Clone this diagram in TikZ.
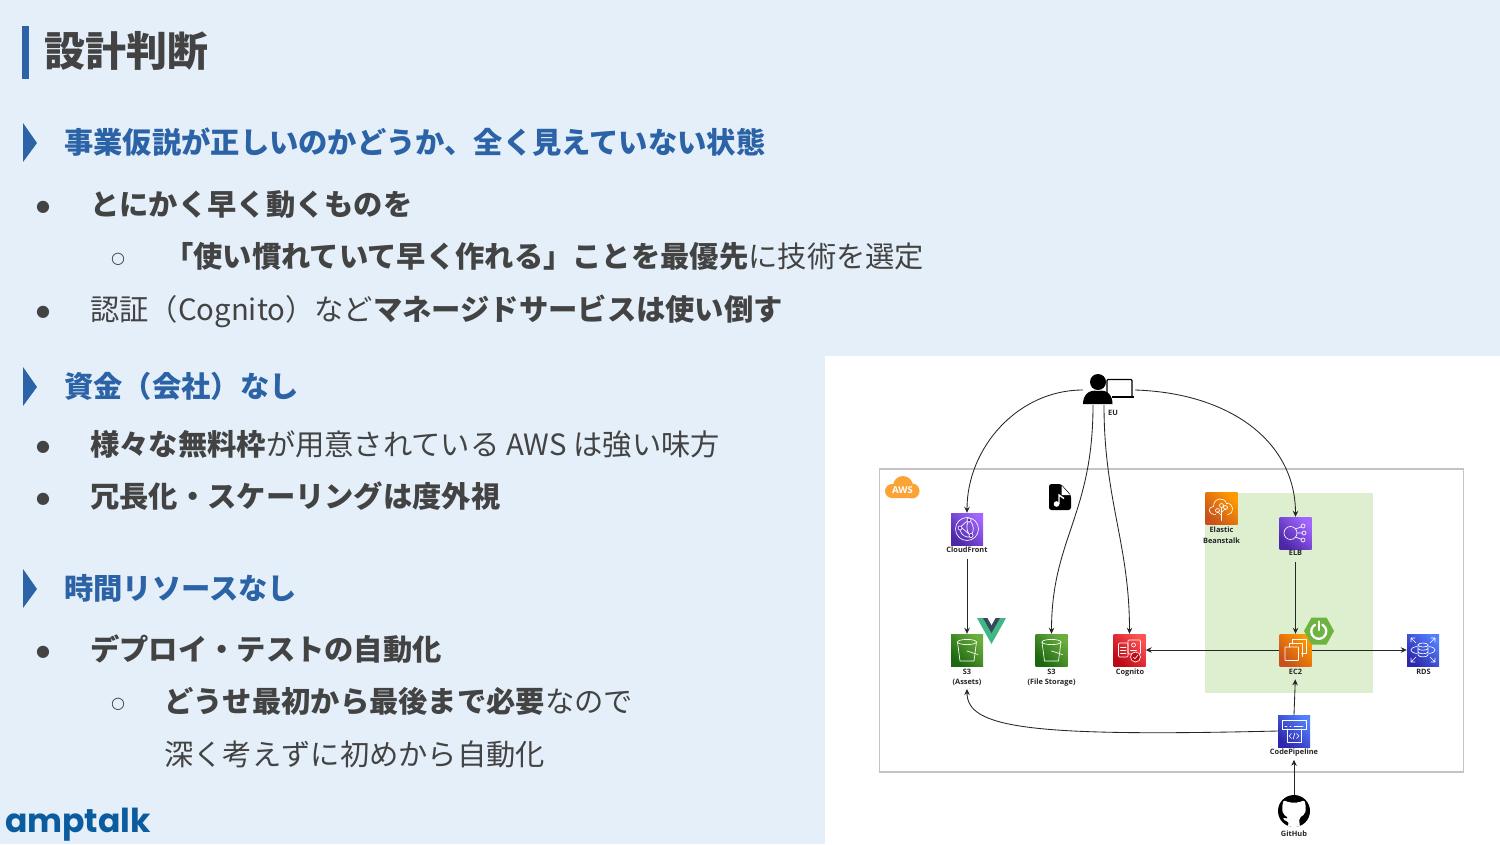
\documentclass[tikz,border=0pt]{standalone}
\usepackage{fontspec}
\usetikzlibrary{arrows.meta,positioning,calc}
\setmainfont{Noto Sans CJK JP}
\newfontfamily\djv{DejaVu Sans}
\newfontfamily\opens{Open Sans}
\newfontfamily\logof{Poppins}
\definecolor{pagebg}{HTML}{E4EFF9}
\definecolor{ink}{HTML}{434343}
\definecolor{hblue}{HTML}{2B63A6}
\definecolor{boxgray}{HTML}{C4C4C4}
\definecolor{ebgreen}{HTML}{DEEFCF}
\definecolor{pA}{HTML}{4D27A8}\definecolor{pB}{HTML}{A166FF}
\definecolor{gA}{HTML}{1B660F}\definecolor{gB}{HTML}{6CAE3E}
\definecolor{oA}{HTML}{C8511B}\definecolor{oB}{HTML}{FF9900}
\definecolor{rA}{HTML}{BD0816}\definecolor{rB}{HTML}{FF5252}
\definecolor{bA}{HTML}{2E27AD}\definecolor{bB}{HTML}{527FFF}
\definecolor{awsor}{HTML}{F9A435}
\definecolor{logoblue}{HTML}{0B5C9E}
\definecolor{spbg}{HTML}{6DB33F}
\definecolor{vueg}{HTML}{41B883}
\definecolor{vued}{HTML}{35495E}
\tikzset{
 titletext/.style={anchor=base west,inner sep=0,text=ink,font=\fontsize{41}{48}\selectfont\bfseries},
 headtext/.style={anchor=base west,inner sep=0,text=hblue,font=\fontsize{29.3}{35}\selectfont\bfseries},
 bodytext/.style={anchor=base west,inner sep=0,text=ink,font=\fontsize{29.3}{35}\selectfont},
 bul/.style={anchor=base,inner sep=0,text=ink,font=\djv\fontsize{16}{18}\selectfont},
 hmark/.style={fill=hblue,draw=none},
 icon/.style n args={2}{rectangle,minimum size=32pt,inner sep=0,bottom color=#1,top color=#2,shading angle=-45},
 lbl/.style={anchor=north,inner sep=0,align=center,text=black!85,font=\opens\fontsize{7.4}{10.6}\selectfont\bfseries},
 glyph/.style={draw=white,line width=0.65pt,line join=round,line cap=round},
 conn/.style={draw=black!85,line width=0.85pt,-{Stealth[length=6pt,width=5.5pt]}}
}
\begin{document}
\begin{tikzpicture}[x=1pt,y=-1pt]
\useasboundingbox (0,0) rectangle (1500,844);
\fill[pagebg] (0,0) rectangle (1500,844);
% title
\fill[hblue] (21.5,26) rectangle (29,79);
\node[titletext] (title) at (44,66) {設計判断};
% section marks
\fill[hmark] (23,123) -- (37,143) -- (23,162) -- cycle;
\fill[hmark] (23,367) -- (37,387) -- (23,406) -- cycle;
\fill[hmark] (23,569) -- (37,589) -- (23,608) -- cycle;
% text
\node[headtext] (h1) at (64,153) {事業仮説が正しいのかどうか、全く見えていない状態};
\node[bul] (b1) at (43,211) {●};
\node[bodytext] (t1) at (90,215) {\bfseries とにかく早く動くものを};
\node[bul] (b2) at (118,263) {○};
\node[bodytext] (t2) at (164,267) {\bfseries 「使い慣れていて早く作れる」ことを最優先\mdseries に技術を選定};
\node[bul] (b3) at (43,316) {●};
\node[bodytext] (t3) at (90,320) {認証（Cognito）など\bfseries マネージドサービスは使い倒す};
\node[headtext] (h2) at (64,397) {資金（会社）なし};
\node[bul] (b4) at (43,451) {●};
\node[bodytext] (t4) at (90,455) {\bfseries 様々な無料枠\mdseries が用意されている AWS は強い味方};
\node[bul] (b5) at (43,503) {●};
\node[bodytext] (t5) at (90,507) {\bfseries 冗長化・スケーリングは度外視};
\node[headtext] (h3) at (64,599) {時間リソースなし};
\node[bul] (b6) at (43,656) {●};
\node[bodytext] (t6) at (90,660) {\bfseries デプロイ・テストの自動化};
\node[bul] (b7) at (118,708) {○};
\node[bodytext] (t7) at (164,712) {\bfseries どうせ最初から最後まで必要\mdseries なので};
\node[bodytext] (t8) at (164,765) {深く考えずに初めから自動化};
% logo
\node[anchor=base west,inner sep=0,text=logoblue,font=\logof\fontsize{33}{36}\selectfont\bfseries] (logo) at (5,832) {amptalk};
% diagram panel
\fill[white] (825,356) rectangle (1500,844);
\draw[boxgray,line width=1.1pt] (879.5,469) rectangle (1463.5,772);
\fill[ebgreen] (1205,493) rectangle (1373,693);
% AWS cloud
\fill[awsor] (903,486) circle[radius=10pt] (892,491) circle[radius=7pt] (912,491) circle[radius=7.5pt] (892,488) rectangle (912,498);
\node[inner sep=0,text=white,font=\opens\fontsize{9.5}{10}\selectfont\bfseries] (awstxt) at (902.5,490) {AWS};
% icons
\node[icon={pA}{pB}] (cf) at (967,529) {};
\node[icon={oA}{oB}] (eb) at (1221.5,508.5) {};
\node[icon={pA}{pB}] (elb) at (1295.5,533) {};
\node[icon={oA}{oB}] (ec2) at (1295.5,650) {};
\node[icon={gA}{gB}] (s3a) at (967,650) {};
\node[icon={gA}{gB}] (s3f) at (1051.5,650) {};
\node[icon={rA}{rB}] (cog) at (1129.5,650) {};
\node[icon={bA}{bB}] (rds) at (1423,650) {};
\node[icon={bA}{bB}] (cp) at (1294,731) {};
% labels
\node[lbl] (cfl) at (967,546.5) {CloudFront};
\node[lbl] (ebl) at (1221.5,527) {Elastic\\Beanstalk};
\node[lbl] (elbl) at (1295.5,550.5) {ELB};
\node[lbl] (ec2l) at (1295.5,668.5) {EC2};
\node[lbl] (s3al) at (967,668.5) {S3\\(Assets)};
\node[lbl] (s3fl) at (1051.5,668.5) {S3\\(File Storage)};
\node[lbl] (cogl) at (1130,668.5) {Cognito};
\node[lbl] (rdsl) at (1423.5,668.5) {RDS};
\node[lbl] (cpl) at (1294,749) {CodePipeline};
\node[lbl] (ghl) at (1294,831) {GitHub};
\node[lbl] (eul) at (1113,410.5) {EU};
% user node
\node[rectangle,minimum width=52pt,minimum height=30pt,inner sep=0] (eu) at (1109,390) {};
\fill[black] (1098,382) circle[radius=8pt];
\fill[black] (1083,404) .. controls (1083,396) and (1088,389) .. (1098,391) .. controls (1108,389) and (1112.5,396) .. (1112.5,404) -- cycle;
\draw[black,line width=1.3pt,rounded corners=1pt] (1107,394) -- (1107,379.5) -- (1132,379.5) -- (1132,396);
\draw[black,line width=1.3pt] (1113,396.5) -- (1134,396.5);
\fill[black] (1112,396) rectangle (1134,398);
% github
\node[circle,fill=black,minimum size=32pt,inner sep=0] (gh) at (1294,811) {};
\begin{scope}[shift={(1294,811)}]
\clip (0,0) circle[radius=16pt];
\fill[white,rounded corners=2pt] (-10.5,-11) -- (-5,-8.5) -- (5,-8.5) -- (10.5,-11) -- (12,-3) -- (11,3) -- (5,7) -- (6,17) -- (-6,17) -- (-5.5,10) -- (-8,11) -- (-11.5,6.5) -- (-9,8) -- (-5.5,7) -- (-11,3) -- (-12,-3) -- cycle;
\end{scope}
% spring
\begin{scope}[shift={(1319,631)}]
\fill[spbg] (-15,0) -- (-7.5,-13.5) -- (7.5,-13.5) -- (15,0) -- (7.5,13.5) -- (-7.5,13.5) -- cycle;
\draw[white,line width=2.3pt,line cap=round] (-4,-6.2) arc[start angle=120,end angle=420,radius=7.5pt];
\draw[white,line width=2.3pt,line cap=round] (0,-9.5) -- (0,-1);
\end{scope}
% vue
\fill[vueg] (977,618) -- (1006,618) -- (991.5,644) -- cycle;
\fill[vued] (983,618) -- (1000,618) -- (991.5,633) -- cycle;
\fill[white] (987.5,618) -- (995.5,618) -- (991.5,625) -- cycle;
% music file
\begin{scope}[shift={(1049,484)}]
\fill[black,rounded corners=2.5pt] (0,0) -- (12,0) -- (22,11) -- (22,26) -- (0,26) -- cycle;
\fill[white] (12.5,1.5) -- (21,11) -- (12.5,11) -- cycle;
\fill[white] (7.5,20) circle[radius=2.8pt];
\draw[white,line width=1.4pt] (10,20) -- (10,11) -- (15,14.5);
\end{scope}
% glyphs
\begin{scope}[shift={(967,529)}]
\draw[glyph] (0,0) circle[radius=11.5pt];
\draw[glyph] (-7,-1) .. controls (-2,-8) and (3,-8) .. (1,-9) (2,-9) .. controls (8,-4) and (7,3) .. (4,6) (-7,1) .. controls (-6,6) and (-1,9) .. (4,8) (-5,-1) -- (2,5) (1,-7) .. controls (-1,-3) and (0,2) .. (2,5);
\draw[glyph,fill=pA] (-7,-1) circle[radius=2pt] (2,-9) circle[radius=2pt] (4,6.5) circle[radius=2pt];
\end{scope}
\begin{scope}[shift={(1295.5,533)}]
\draw[glyph] (-5,0) circle[radius=6.5pt] (7.5,-7) circle[radius=2pt] (8.5,0) circle[radius=2pt] (7.5,7) circle[radius=2pt];
\draw[glyph] (1.5,0) -- (6.5,0) (0,-4) -- (5.7,-6.2) (0,4) -- (5.7,6.2);
\end{scope}
\foreach \cx in {967,1051.5}{
\begin{scope}[shift={(\cx,650)}]
\draw[glyph] (0,-8) ellipse[x radius=9.5pt,y radius=2.6pt];
\draw[glyph] (-9.5,-8) -- (-7,11) -- (7,11) -- (9.5,-8);
\draw[glyph] (0,1) -- (11,4.5);
\end{scope}}
\begin{scope}[shift={(1129.5,650)}]
\draw[glyph,rounded corners=1pt] (-11,-7) rectangle (-1.5,7);
\draw[glyph,rounded corners=1pt] (-1.5,-10) rectangle (11,4);
\draw[glyph] (-9,-3) -- (-3.5,-3) (-9,0) -- (-3.5,0) (-9,3) -- (-3.5,3);
\draw[glyph] (4,-5) circle[radius=2pt];
\draw[glyph] (1,0) -- (7,0);
\draw[glyph,fill=rA] (6,7) circle[radius=5pt];
\draw[glyph] (3.8,7) -- (5.5,8.8) -- (8.3,5.2);
\end{scope}
\begin{scope}[shift={(1295.5,650)}]
\draw[glyph] (-3,-6) -- (-3,-10.5) -- (10.5,-10.5) -- (10.5,3) -- (6,3);
\draw[glyph] (-6.5,-3) -- (-6.5,-6.5) -- (6.5,-6.5) -- (6.5,6.5);
\draw[glyph,rounded corners=0.5pt] (-10.5,-3) rectangle (3,10.5);
\end{scope}
\begin{scope}[shift={(1423,650)}]
\draw[glyph] (0,-5) ellipse[x radius=5pt,y radius=2pt];
\draw[glyph] (-5,-5) -- (-5,5) (5,-5) -- (5,5) (-5,-1.5) .. controls (-4,0.8) and (4,0.8) .. (5,-1.5) (-5,2) .. controls (-4,4.3) and (4,4.3) .. (5,2) (-5,5) .. controls (-4,7.5) and (4,7.5) .. (5,5);
\draw[glyph] (-6.5,-3.5) .. controls (-14,-2) and (-14,2) .. (-6.5,3.5) (6.5,-3.5) .. controls (14,-2) and (14,2) .. (6.5,3.5);
\draw[glyph] (-12,-12) -- (-7,-7) (-12,-12) -- (-12,-8) (-12,-12) -- (-8,-12)
 (12,-12) -- (7,-7) (12,-12) -- (12,-8) (12,-12) -- (8,-12)
 (-12,12) -- (-7,7) (-12,12) -- (-12,8) (-12,12) -- (-8,12)
 (12,12) -- (7,7) (12,12) -- (12,8) (12,12) -- (8,12);
\end{scope}
\begin{scope}[shift={(1294,731)}]
\draw[glyph] (-12,-11) rectangle (12,-2);
\draw[glyph] (-7,-2) -- (-7,11) -- (7,11) -- (7,-2);
\draw[glyph] (-9,-5) -- (-7,-5) (-4,-5) -- (-3,-5) (0,-5) -- (9,-5);
\draw[glyph] (-2.5,2.5) -- (-5,5) -- (-2.5,7.5) (2.5,2.5) -- (5,5) -- (2.5,7.5) (0.8,2) -- (-0.8,8);
\end{scope}
\begin{scope}[shift={(1221.5,508.5)}]
\draw[glyph] (-6,6) .. controls (-14,6) and (-14,-2) .. (-8,-2) .. controls (-8,-11) and (3,-12) .. (5,-5) .. controls (12,-6) and (14,5) .. (6,6);
\draw[glyph] (0,12) -- (0,-1) (0,7) -- (-4,3) (0,4) -- (4,0);
\draw[glyph] (-4,2) circle[radius=2pt] (4,-1) circle[radius=2pt] (0,-3) circle[radius=2pt];
\end{scope}
% connectors
\draw[conn] (eu.west) .. controls +(-65,0) and +(0,-65) .. (cf.north);
\draw[conn] (eu.east) .. controls +(95,3) and +(0,-75) .. (elb.north);
\draw[conn] ([xshift=-16pt]eu.south) .. controls +(0,110) and +(0,-95) .. (s3f.north);
\draw[conn] ([xshift=-5pt]eu.south) .. controls +(0,95) and +(0,-90) .. (cog.north);
\draw[conn,shorten <=6pt] (cfl.south) -- (s3a.north);
\draw[conn,shorten <=6pt] (elbl.south) -- (ec2.north);
\draw[conn] (ec2.west) -- (cog.east);
\draw[conn] (ec2.east) -- (rds.west);
\draw[conn,shorten >=5pt] (cp.north) -- (ec2l.south);
\draw[conn,shorten >=3pt] (cp.west) .. controls +(-248,6) and +(0,42) .. (s3al.south);
\draw[conn,shorten >=3pt] (gh.north) -- (cpl.south);
\end{tikzpicture}
\end{document}
